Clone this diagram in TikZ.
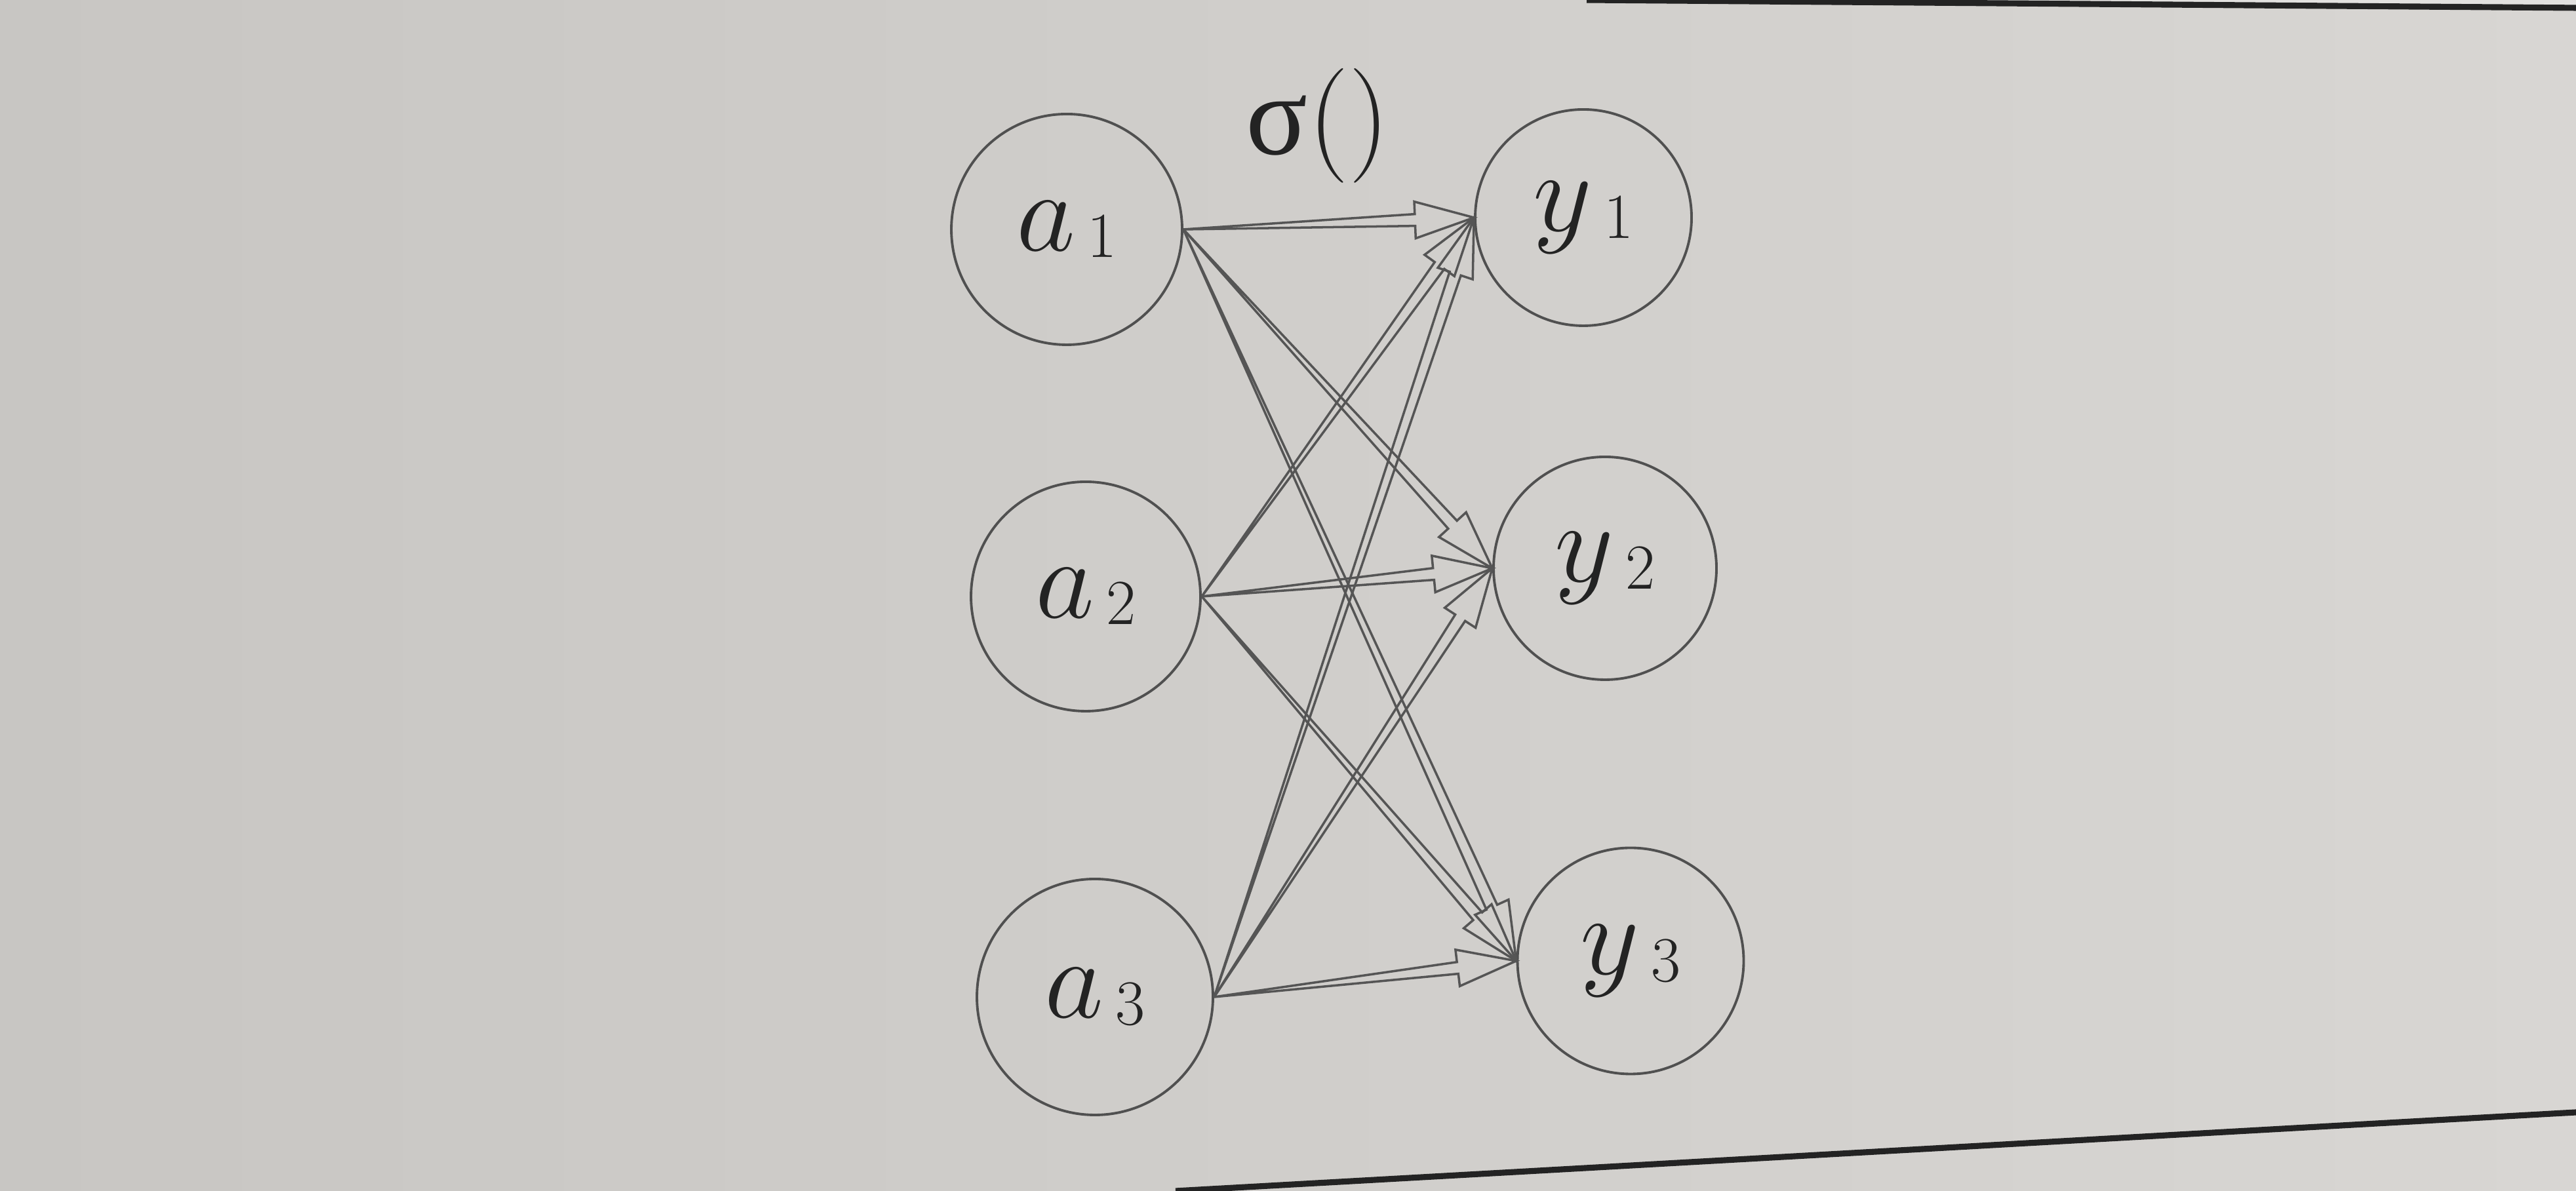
\documentclass[tikz,border=0pt]{standalone}
\usepackage{fontspec}
\newfontfamily\grk{Liberation Serif}
\usetikzlibrary{calc}
\definecolor{paperL}{RGB}{200,198,195}
\definecolor{paperR}{RGB}{216,214,211}
\definecolor{paperTop}{RGB}{226,225,223}
\definecolor{circlegray}{RGB}{80,80,80}
\definecolor{arrowgray}{RGB}{85,85,85}
\definecolor{inkgray}{RGB}{35,35,35}
\tikzset{
  unit/.style={circle, draw=circlegray, line width=1.1pt, inner sep=0pt, text=inkgray},
  arrowline/.style={draw=arrowgray, line width=1.0pt, line join=miter},
  pageedge/.style={draw=inkgray, line width=2.6pt},
}
\newcommand{\lbl}[2]{\scalebox{2}{\Huge$#1$\kern0.1em\raisebox{-0.06em}{\scalebox{0.56}{#2}}}}
\newcommand{\hollowarrow}[2]{%
  \coordinate (tailA) at (#1);
  \coordinate (tipB) at (#2);
  \coordinate (hb) at ($(tipB)!0.9cm!(tailA)$);
  \draw[arrowline] (tailA) -- ($(hb)!0.09cm!90:(tipB)$) -- ($(hb)!0.28cm!90:(tipB)$)
     -- (tipB) -- ($(hb)!0.28cm!-90:(tipB)$) -- ($(hb)!0.09cm!-90:(tipB)$) -- cycle;
}
\begin{document}
\begin{tikzpicture}
\useasboundingbox (0,0) rectangle (39.29,18.17);
\shade[left color=paperL, right color=paperR] (0,0) rectangle (39.29,18.17);
\fill[paperTop] (24.2,18.17) -- (39.29,18.05) -- (39.29,18.17) -- cycle;
\draw[pageedge] (24.2,18.17) -- (39.29,18.05);
\draw[pageedge] (17.93,0) .. controls (26,0.45) and (33,0.85) .. (39.29,1.2);

\node[unit, minimum size=3.52cm] (a1) at (16.27,14.67) {\lbl{a}{1}};
\node[unit, minimum size=3.50cm] (a2) at (16.56,9.07) {\lbl{a}{2}};
\node[unit, minimum size=3.60cm] (a3) at (16.70,2.96) {\lbl{a}{3}};
\node[unit, minimum size=3.30cm] (y1) at (24.15,14.85) {\lbl{y}{1}};
\node[unit, minimum size=3.40cm] (y2) at (24.48,9.50) {\lbl{y}{2}};
\node[unit, minimum size=3.45cm] (y3) at (24.87,3.51) {\lbl{y}{3}};
\node[text=inkgray] (sig) at (20.10,16.25) {\scalebox{2}{\Huge{\grk σ}$()$}};

\hollowarrow{a1.east}{y1.west}
\hollowarrow{a1.east}{y2.west}
\hollowarrow{a1.east}{y3.west}
\hollowarrow{a2.east}{y1.west}
\hollowarrow{a2.east}{y2.west}
\hollowarrow{a2.east}{y3.west}
\hollowarrow{a3.east}{y1.west}
\hollowarrow{a3.east}{y2.west}
\hollowarrow{a3.east}{y3.west}
\end{tikzpicture}
\end{document}
